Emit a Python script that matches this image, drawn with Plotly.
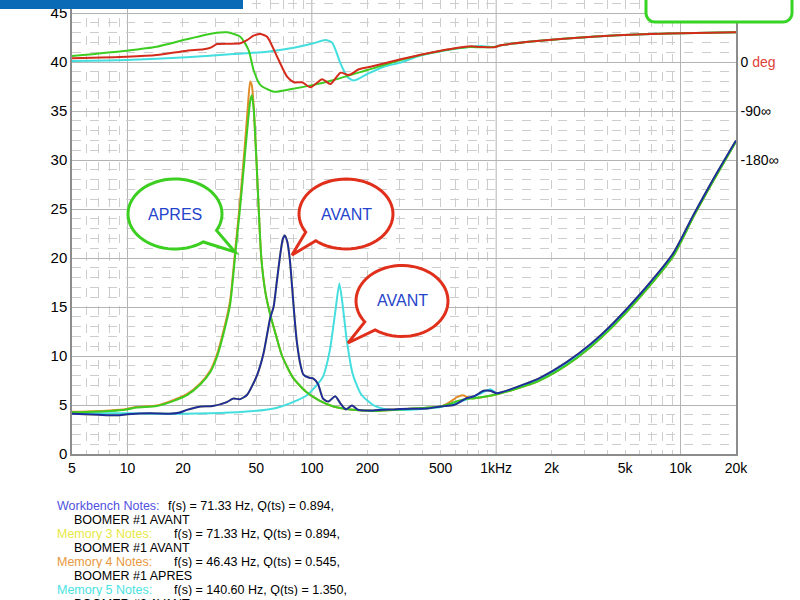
import numpy as np
import plotly.graph_objects as go

# ---------------- data ----------------
# Workbench (navy) impedance, BOOMER #1 AVANT
f_navy = [5, 7, 8.8, 10, 13.3, 17, 19, 21, 25, 29, 34.6, 37.4, 40.9, 44.6, 47.3, 50.6, 54.6,
          59.5, 62, 64.5, 67, 69.5, 71.3, 73.5, 76, 78.2, 80.5, 83, 87, 90, 96, 102, 108, 115,
          123, 134, 143, 153, 165, 179, 215, 303, 421, 500, 590, 692, 762, 855, 928, 1010,
          1414, 1740, 2421, 3245, 4340, 6030, 9140, 11750, 15100, 20000]
z_navy = [4.1, 4.0, 3.95, 4.05, 4.15, 4.1, 4.2, 4.5, 4.85, 4.9, 5.3, 5.65, 5.6, 6.05, 6.9, 8.1, 10.2,
          13.9, 15.0, 17.5, 20.0, 21.9, 22.3, 21.7, 19.8, 17.0, 14.0, 11.4, 9.0, 8.1, 7.8, 7.7, 7.15, 5.65,
          5.35, 5.9, 5.15, 4.55, 4.95, 4.5, 4.45, 4.6, 4.65, 4.85, 5.0, 5.7, 5.9, 6.45, 6.45, 6.2,
          7.1, 7.8, 9.4, 11.2, 13.4, 16.3, 20.5, 24.4, 28.1, 32.0]

# Memory 4 (orange) and green impedance, APRES
f_apres = [5, 8.1, 9.9, 11.2, 14.4, 17.7, 21, 24.8, 28.1, 30.5, 33.1, 36, 38.5, 41, 43.3, 45,
           46.3, 47.3, 48.4, 50, 53.2, 56, 59.5, 64.6, 69, 79, 93, 110, 131, 161, 215, 330, 500,
           560, 613, 660, 720, 762, 1010, 1414, 1740, 2421, 3245, 4340, 6030, 9140, 11750, 15100, 20000]
z_green = [4.25, 4.4, 4.55, 4.75, 4.9, 5.4, 6.0, 7.1, 8.35, 9.85, 12.2, 15.2, 20.5, 25.5, 30.4, 33.8,
           36.0, 36.6, 35.2, 30.2, 20.0, 16.5, 14.2, 11.8, 10.0, 7.8, 6.35, 5.45, 4.85, 4.55, 4.4, 4.6, 4.85,
           5.1, 5.4, 5.55, 5.65, 5.7, 6.1, 6.9, 7.55, 9.1, 10.9, 13.1, 16.0, 20.2, 24.2, 27.9, 31.9]
z_orange = [4.3, 4.45, 4.6, 4.8, 4.95, 5.5, 6.1, 7.2, 8.5, 10.1, 12.5, 15.6, 21.0, 26.2, 31.5, 35.5,
            38.0, 37.6, 35.3, 30.2, 20.0, 16.5, 14.2, 11.8, 10.0, 7.8, 6.35, 5.45, 4.85, 4.55, 4.4, 4.6, 4.85,
            5.3, 5.8, 6.0, 5.7, 5.7, 6.1, 6.9, 7.55, 9.1, 10.9, 13.1, 16.0, 20.2, 24.2, 27.9, 31.9]

# Memory 5 (cyan) impedance, BOOMER #2 AVANT
f_cyan = [5, 10, 15, 28, 42.6, 62.3, 79, 94, 106, 115, 125, 134, 141, 147, 155, 167, 185, 215,
          256, 330, 500, 700, 850, 930, 1010, 1414, 1740, 2421, 3245, 4340, 6030, 9140, 11750, 15100, 20000]
z_cyan = [4.15, 4.15, 4.1, 4.15, 4.3, 4.65, 5.3, 6.0, 7.0, 7.9, 10.5, 14.5, 17.4, 15.2, 11.5, 8.1, 6.1, 5.0,
          4.55, 4.5, 4.8, 5.6, 6.3, 6.6, 6.2, 7.0, 7.6, 9.2, 11.0, 13.2, 16.1, 20.3, 24.3, 28.0, 31.9]

# Phase curves (degrees)
f_ph_red = [5, 9.9, 14.4, 21, 25.9, 28.5, 30.6, 40.9, 44.5, 48.3, 52.5, 57.2, 64.8, 73.4, 79.8, 88.6,
            98.3, 113.8, 126, 143, 158.7, 180, 208, 303, 389, 567, 728, 825, 975, 1060, 1607, 2650,
            4560, 8530, 20000]
ph_red = [6.8, 9.7, 12.9, 20.8, 23.3, 27, 33, 34.3, 40, 48.3, 51.4, 46.5, 9.7, -27, -37.3, -37.3,
          -46.5, -31.8, -40.4, -19.6, -23.9, -13.4, -8.6, 5, 13.5, 24, 28.8, 27.7, 27, 30.7, 38, 44.3,
          49.2, 52.3, 54.7]

f_ph_green = [5, 9.9, 14.4, 21, 29.3, 34.7, 40.9, 45.4, 48.3, 52.5, 62.1, 76.5, 102, 131.6, 200, 303,
              389, 567, 728, 825, 975, 1060, 1607, 2650, 4560, 8530, 20000]
ph_green = [11, 20.8, 28, 41.7, 52.7, 54.5, 46.5, 22, -14.7, -42, -54.5, -50, -42, -33, -14.7, 3.7,
            13, 23.5, 27.5, 27, 27.5, 30.5, 38, 44.3, 49.2, 52.3, 54.7]

f_ph_cyan = [5, 9.9, 21, 37.6, 57.2, 79.8, 102, 118.6, 129, 143, 155.6, 169, 200, 246, 303, 389, 567,
             728, 825, 975, 1060, 1607, 2650, 4560, 8530, 20000]
ph_cyan = [1.8, 3.7, 8.6, 14.7, 19, 26, 34.3, 40.4, 35.5, -2.4, -27, -34, -22, -8.6, -1, 12, 23,
           28, 29.5, 27.5, 30.7, 38, 44.3, 49.2, 52.3, 54.7]

x_tickvals = [5, 10, 20, 50, 100, 200, 500, 1000, 2000, 5000, 10000, 20000]
x_ticktext = ["5", "10", "20", "50", "100", "200", "500", "1kHz", "2k", "5k", "10k", "20k"]
y_tickvals = [0, 5, 10, 15, 20, 25, 30, 35, 40, 45]
ph_tickvals = [0, -90, -180]
ph_ticktext = ["0 <span style='color:#e0403a'>deg</span>", "-90\u221e", "-180\u221e"]

notes = [
    ("Workbench Notes:", "#5252e0", "f(s) = 71.33 Hz, Q(ts) = 0.894,", "BOOMER #1 AVANT"),
    ("Memory 3 Notes:", "#e8e846", "f(s) = 71.33 Hz, Q(ts) = 0.894,", "BOOMER #1 AVANT"),
    ("Memory 4 Notes:", "#e8983e", "f(s) = 46.43 Hz, Q(ts) = 0.545,", "BOOMER #1 APRES"),
    ("Memory 5 Notes:", "#4ae2e2", "f(s) = 140.60 Hz, Q(ts) = 1.350,", "BOOMER #2 AVANT"),
]

# ---------------- layout geometry (pixels) ----------------
W, H = 800, 600
L, R, T, B = 72, 64, 0, 146
PW, PH = W - L - R, H - T - B
Y_TOP = PH / 9.8  # units per plot height


def px2paper(px, py):
    return (px - L) / PW, (T + PH - py) / PH


FONT = "Liberation Sans, Arial, sans-serif"
NAVY = "#1e2c9c"
GREEN = "#3ccc22"
ORANGE = "#e08c28"
CYAN = "#44dede"
RED = "#d42c1c"
YELLOW = "#e6e640"

fig = go.Figure()

def imp(f, z, c):
    fig.add_trace(go.Scatter(x=f, y=z, mode="lines", line=dict(color=c, width=2, shape="spline", smoothing=0.6),
                             hoverinfo="skip", showlegend=False))

def ph(f, p, c):
    fig.add_trace(go.Scatter(x=f, y=p, yaxis="y2", mode="lines",
                             line=dict(color=c, width=2, shape="spline", smoothing=0.6),
                             hoverinfo="skip", showlegend=False))

imp(f_navy, z_navy, YELLOW)
imp(f_apres, z_orange, ORANGE)
imp(f_cyan, z_cyan, CYAN)
imp(f_apres, z_green, GREEN)
imp(f_navy, z_navy, NAVY)
ph(f_ph_cyan, ph_cyan, CYAN)
ph(f_ph_green, ph_green, GREEN)
ph(f_ph_red, ph_red, RED)

# minor grid positions
minor_x = [m * 10 ** k for k in range(0, 5) for m in range(2, 10) if 5 < m * 10 ** k < 20000]
minor_x = [v for v in minor_x if v not in (10, 100, 1000, 10000)]

GRID_MAJ = "#b4b4b4"
GRID_MIN = "#cdcdcd"

fig.update_layout(
    width=W, height=H, margin=dict(l=L, r=R, t=T, b=B, pad=0),
    paper_bgcolor="white", plot_bgcolor="white",
    font=dict(family=FONT, color="black"),
    xaxis=dict(type="log", range=[np.log10(5), np.log10(20000)], tickvals=x_tickvals, ticktext=x_ticktext,
               showgrid=False, zeroline=False, showline=True, linecolor="#8c8c8c", linewidth=1.5,
               ticks="", tickfont=dict(size=14),
               minor=dict(tickmode="array", tickvals=minor_x, showgrid=True, griddash="dash",
                          gridcolor=GRID_MIN, gridwidth=1, ticks="")),
    yaxis=dict(range=[0, Y_TOP], tickvals=y_tickvals, showgrid=True, gridcolor=GRID_MAJ, gridwidth=1,
               zeroline=False, showline=True, linecolor="#8c8c8c", linewidth=1.5, ticks="",
               tickfont=dict(size=15),
               minor=dict(dtick=1, showgrid=True, griddash="dash", gridcolor=GRID_MIN, gridwidth=1)),
    yaxis2=dict(overlaying="y", side="right", range=[(0 - 40) * 18, (Y_TOP - 40) * 18],
                tickvals=ph_tickvals, ticktext=ph_ticktext, showgrid=False, zeroline=False,
                showline=True, linecolor="#8c8c8c", linewidth=1.5, ticks="", tickfont=dict(size=14)),
)

# decade major vertical grid lines
for d in [10, 100, 1000, 10000]:
    fig.add_shape(type="line", xref="x", yref="paper", x0=d, x1=d, y0=0, y1=1,
                  line=dict(color=GRID_MAJ, width=1), layer="between")

# blank patch at the bottom-right corner of the grid (as in the source image)
bx0, by0 = px2paper(683, 451)
bx1, by1 = px2paper(721, 409)
fig.add_shape(type="rect", xref="paper", yref="paper", x0=bx0, y0=by0, x1=bx1, y1=by1,
              fillcolor="white", line=dict(width=0), layer="between")

# top-left blue bar
x0, y0 = px2paper(0, 9)
x1, y1 = px2paper(243, -5)
fig.add_shape(type="rect", xref="paper", yref="paper", x0=x0, y0=y0, x1=x1, y1=y1,
              fillcolor="#0a6ab6", line=dict(width=0), layer="above")

# top-right green rounded box
def rounded_box(xa, ya, xb, yb, r):
    pts = []
    n = 8
    pts.append((xa, ya))
    pts.append((xb, ya))
    for i in range(n + 1):
        a = np.radians(0 + 90 * i / n)
        pts.append((xb - r + r * np.cos(a), yb - r + r * np.sin(a)))
    for i in range(n + 1):
        a = np.radians(90 + 90 * i / n)
        pts.append((xa + r + r * np.cos(a), yb - r + r * np.sin(a)))
    s = ""
    for i, (px, py) in enumerate(pts):
        xp, yp = px2paper(px, py)
        s += ("M" if i == 0 else "L") + f"{xp:.5f},{yp:.5f} "
    return s + "Z"

fig.add_shape(type="path", xref="paper", yref="paper", path=rounded_box(646, -10, 792, 22, 9),
              fillcolor="white", line=dict(color="#36d424", width=3), layer="above")

# speech bubbles
def bubble(cx, cy, rx, ry, a0, a1, tip):
    s = ""
    angs = np.linspace(np.radians(a0), np.radians(a1), 60)
    for i, a in enumerate(angs):
        xp, yp = px2paper(cx + rx * np.cos(a), cy + ry * np.sin(a))
        s += ("M" if i == 0 else "L") + f"{xp:.5f},{yp:.5f} "
    xp, yp = px2paper(*tip)
    s += f"L{xp:.5f},{yp:.5f} Z"
    return s

bubbles = [
    (175, 214, 47, 35, 53, 388, (235, 252), "#3ccf22", "APRES"),
    (346, 214, 47, 35, 149, 490, (292, 255), "#e0301c", "AVANT"),
    (402, 301, 46, 35.5, 144, 485.7, (348, 343), "#e0301c", "AVANT"),
]
for cx, cy, rx, ry, a0, a1, tip, col, txt in bubbles:
    fig.add_shape(type="path", xref="paper", yref="paper", path=bubble(cx, cy, rx, ry, a0, a1, tip),
                  fillcolor="white", line=dict(color=col, width=3), layer="above")
    xp, yp = px2paper(cx, cy)
    fig.add_annotation(x=xp, y=yp, xref="paper", yref="paper", text=txt, showarrow=False,
                       font=dict(size=16, color="#2444cc", family=FONT), xanchor="center", yanchor="middle")

# notes below chart
NOTE_SIZE = 12.5
py = 505
for i, (head, col, body, sub) in enumerate(notes):
    xh, yh = px2paper(55, py)
    fig.add_annotation(x=xh, y=yh, xref="paper", yref="paper", text=head, showarrow=False, height=13,
                       font=dict(size=NOTE_SIZE, color=col, family=FONT), xanchor="left", yanchor="middle")
    xb, _ = px2paper(166 if i == 0 else 172, py)
    fig.add_annotation(x=xb, y=yh, xref="paper", yref="paper", text=body, showarrow=False, height=13,
                       font=dict(size=NOTE_SIZE, color="black", family=FONT), xanchor="left", yanchor="middle")
    xs, ys = px2paper(72, py + 14)
    fig.add_annotation(x=xs, y=ys, xref="paper", yref="paper", text=sub, showarrow=False, height=13,
                       font=dict(size=NOTE_SIZE, color="black", family=FONT), xanchor="left", yanchor="middle")
    py += 28

fig.write_html("out.html", config={"displayModeBar": False},
               post_script="document.body.style.margin='0px';document.body.style.padding='0px';")
